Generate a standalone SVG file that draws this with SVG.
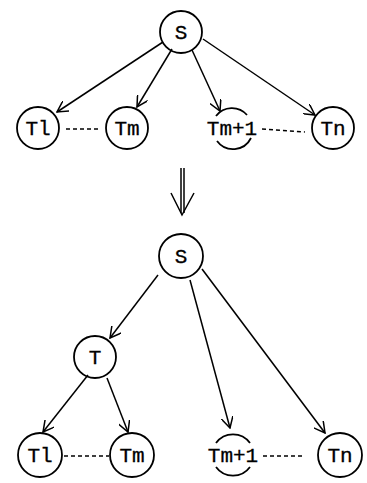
<svg xmlns="http://www.w3.org/2000/svg" width="367" height="483" viewBox="0 0 367 483">
<style>
.n{fill:none;stroke:#000;stroke-width:1.8}
.t{font-family:"Liberation Mono","Courier New",monospace;font-size:21px;fill:#000;text-anchor:middle;stroke:#000;stroke-width:0.3}
.e{fill:none;stroke:#000;stroke-width:1.5}
.d{fill:none;stroke:#000;stroke-width:1.4;stroke-dasharray:4 3}
</style>
<defs>
<marker id="a" viewBox="0 0 12 12" refX="11" refY="6" markerWidth="12" markerHeight="12" markerUnits="userSpaceOnUse" orient="auto">
<path d="M0,0 L11,6 L0,12" fill="none" stroke="#000" stroke-width="1.5"/>
</marker>
</defs>
<rect width="367" height="483" fill="#fff"/>
<g id="connectors">
<line class="e" x1="163" y1="42" x2="57" y2="112" marker-end="url(#a)"/>
<line class="e" x1="172" y1="49" x2="137" y2="107" marker-end="url(#a)"/>
<line class="e" x1="192" y1="50" x2="220" y2="111" marker-end="url(#a)"/>
<line class="e" x1="203" y1="39" x2="315" y2="115" marker-end="url(#a)"/>
<line class="d" x1="66" y1="129" x2="98" y2="129"/>
<line class="d" x1="262" y1="129" x2="305" y2="132"/>
<line class="e" x1="181" y1="168" x2="181" y2="213"/>
<line class="e" x1="184" y1="168" x2="184" y2="213"/>
<path class="e" d="M171,193 L182,215 L194,193"/>
<line class="e" x1="158" y1="275" x2="110" y2="338" marker-end="url(#a)"/>
<line class="e" x1="190" y1="280" x2="230" y2="428" marker-end="url(#a)"/>
<line class="e" x1="202" y1="269" x2="325" y2="433" marker-end="url(#a)"/>
<line class="e" x1="88" y1="375" x2="43" y2="432" marker-end="url(#a)"/>
<line class="e" x1="107" y1="378" x2="128" y2="432" marker-end="url(#a)"/>
<line class="d" x1="64" y1="456" x2="109" y2="456"/>
<line class="d" x1="263" y1="456" x2="305" y2="456"/>
</g>
<g id="S1"><circle class="n" cx="181" cy="32" r="21"/><text class="t" x="181" y="39">S</text></g>
<g id="T1a"><circle class="n" cx="38" cy="128" r="21"/><text class="t" x="38" y="135">Tl</text></g>
<g id="Tma"><circle class="n" cx="127" cy="128" r="21"/><text class="t" x="127" y="135">Tm</text></g>
<g id="Tm1a"><path class="n" d="M216,116 A20,20 0 0 1 247,115"/><path class="n" d="M251,138 A20,20 0 0 1 217,141"/><text class="t" x="232" y="135">Tm+1</text></g>
<g id="Tna"><circle class="n" cx="333" cy="128" r="21"/><text class="t" x="333" y="135">Tn</text></g>
<g id="S2"><circle class="n" cx="181" cy="256" r="22"/><text class="t" x="181" y="263">S</text></g>
<g id="T"><circle class="n" cx="95" cy="357" r="21"/><text class="t" x="95" y="364">T</text></g>
<g id="T1b"><circle class="n" cx="40" cy="455" r="22"/><text class="t" x="40" y="462">Tl</text></g>
<g id="Tmb"><circle class="n" cx="132" cy="455" r="22"/><text class="t" x="132" y="462">Tm</text></g>
<g id="Tm1b"><path class="n" d="M216,443 A21,21 0 0 1 250,443"/><path class="n" d="M250,467 A21,21 0 0 1 216,467"/><text class="t" x="233" y="462">Tm+1</text></g>
<g id="Tnb"><circle class="n" cx="340" cy="455" r="22"/><text class="t" x="340" y="462">Tn</text></g>
</svg>
